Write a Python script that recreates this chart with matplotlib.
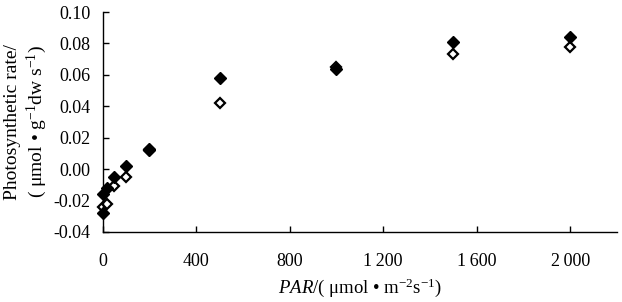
import matplotlib
matplotlib.use('Agg')
import matplotlib.pyplot as plt

plt.rcParams['font.family'] = 'Liberation Serif'
plt.rcParams['mathtext.fontset'] = 'custom'
plt.rcParams['mathtext.rm'] = 'Liberation Serif'
plt.rcParams['mathtext.it'] = 'Liberation Serif:italic'

# filled diamonds
par_a = [0, 0, 20, 50, 100, 200, 200, 500, 1000, 1500, 2000]
rate_a = [-0.028, -0.016, -0.012, -0.005, 0.002, 0.012, 0.013, 0.058, 0.064, 0.081, 0.084]
# open diamonds
par_b = [0, 20, 50, 100, 200, 500, 1000, 1500, 2000]
rate_b = [-0.024, -0.022, -0.011, -0.005, 0.012, 0.042, 0.065, 0.073, 0.078]

xticks = [0, 400, 800, 1200, 1600, 2000]
xticklabels = ['0', '400', '800', '1\u2009200', '1\u2009600', '2\u2009000']
yticks = [-0.04, -0.02, 0.00, 0.02, 0.04, 0.06, 0.08, 0.10]

fig = plt.figure(figsize=(6.22, 3.02), dpi=100)
ax = fig.add_axes([0.165, 0.232, 0.827, 0.728])

ax.plot(par_b, rate_b, 'D', ms=5.5, mfc='white', mec='black', mew=1.6, ls='none', clip_on=False)
ax.plot(par_a, rate_a, 'D', ms=6, mfc='black', mec='black', ls='none', clip_on=False)

ax.set_xlim(0, 2200)
ax.set_ylim(-0.04, 0.10)
ax.set_xticks(xticks)
ax.set_xticklabels(xticklabels)
ax.set_yticks(yticks)
ax.set_yticklabels(['%.2f' % v for v in yticks])
ax.tick_params(direction='in', length=4, width=1, labelsize=13)
ax.tick_params(axis='x', pad=15)
ax.tick_params(axis='y', pad=9)
ax.spines['top'].set_visible(False)
ax.spines['right'].set_visible(False)
for s in ['left', 'bottom']:
    ax.spines[s].set_linewidth(1)

ax.set_xlabel('$PAR$/( \u03bcmol \u2022 m$^{-2}$s$^{-1}$)', fontsize=13.5, labelpad=5)
ax.set_ylabel('Photosynthetic rate/\n( \u03bcmol \u2022 g$^{-1}$dw s$^{-1}$)', fontsize=14,
              linespacing=1.2, labelpad=3)

fig.savefig('out.png', dpi=100)
